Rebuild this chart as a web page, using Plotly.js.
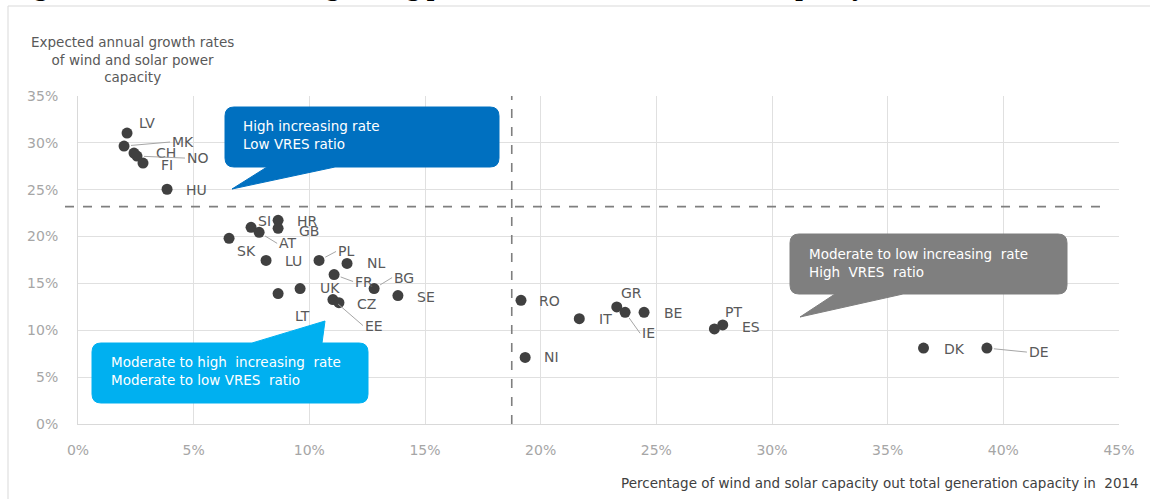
<!DOCTYPE html>
<html>
<head>
<meta charset="utf-8">
<script src="https://cdn.plot.ly/plotly-3.0.1.min.js"></script>
<style>html,body{margin:0;padding:0;background:#fff;}#chart{width:1150px;height:499px;}</style>
</head>
<body>
<div id="chart"></div>
<script>
// ---------------- DATA ----------------
const countries = ['LV','MK','CH','NO','FI','HU','SK','SI','AT','HR','GB','LU','PL','NL','FR','BG','SE','LT','UK','EE','CZ','RO','NI','IT','GR','IE','BE','PT','ES','DK','DE'];
const vresShare = [2.12,1.99,2.42,2.55,2.81,3.85,6.53,7.48,7.83,8.65,8.65,8.13,10.42,11.63,11.07,12.80,13.83,8.65,9.60,11.02,11.28,19.15,19.33,21.67,23.29,23.65,24.47,27.87,27.51,36.55,39.29];
const growthRate = [31.05,29.66,28.91,28.59,27.84,25.05,19.81,20.99,20.45,21.73,20.88,17.45,17.45,17.13,15.95,14.45,13.70,13.92,14.45,13.28,12.95,13.20,7.10,11.24,12.49,11.92,11.92,10.57,10.14,8.10,8.10];
const xTickVals = [0,5,10,15,20,25,30,35,40,45];
const yTickVals = [0,5,10,15,20,25,30,35];
const growthThreshold = 23.2;   // horizontal dashed line
const shareThreshold = 18.75;   // vertical dashed line
const titleText = 'Figure 4.4: Wind and solar growing power rates and ratio to total capacity';
const yTitleText = 'Expected annual growth rates<br>of wind and solar power<br>capacity';
const xTitleText = 'Percentage of wind and solar capacity out total generation capacity in  2014';
const calloutTexts = [
  'High increasing rate<br>Low VRES ratio',
  'Moderate to high  increasing  rate<br>Moderate to low VRES  ratio',
  'Moderate to low increasing  rate<br>High  VRES  ratio'
];

// ---------------- LAYOUT CONFIG ----------------
const W = 1150, H = 499, L = 78, R = 1119, T = 96, B = 424;
const px = v => (v - L) / (R - L);
const py = v => (B - v) / (B - T);
// label offsets in pixels: [dx to label left edge, dy to label centre, leader line]
const labelPos = {
  LV:[10,-10,false], MK:[46,-4,true], CH:[20,0,false], NO:[48,2,true], FI:[16,2,false], HU:[17,1,false],
  SK:[6,13,false], SI:[5,-6,false], AT:[18,11,true], HR:[17,1,false], GB:[19,3,false], LU:[17,1,false],
  PL:[17,-9,true], NL:[18,0,false], FR:[19,7,true], BG:[18,-11,true], SE:[17,1,false], LT:[15,22,false],
  UK:[18,-1,false], EE:[30,26,true], CZ:[16,1,false], RO:[16,1,false], NI:[17,0,false], IT:[18,0,false],
  GR:[2,-14,false], IE:[15,21,true], BE:[18,1,false], PT:[0,-13,false], ES:[26,-2,false], DK:[18,1,false], DE:[40,4,true]
};
const font = 'DejaVu Sans, Verdana, sans-serif';

function callout(box, base, tip, r, pointerSide) {
  const [x0,y0,x1,y1] = box;
  let d = `M${px(x0+r)},${py(y0)}`;
  if (pointerSide === 'top') {
    d += ` L${px(base[0])},${py(y0)} L${px(tip[0])},${py(tip[1])} L${px(base[1])},${py(y0)}`;
  }
  d += ` L${px(x1-r)},${py(y0)} Q${px(x1)},${py(y0)} ${px(x1)},${py(y0+r)}`;
  d += ` L${px(x1)},${py(y1-r)} Q${px(x1)},${py(y1)} ${px(x1-r)},${py(y1)}`;
  if (pointerSide === 'bottom') {
    d += ` L${px(base[1])},${py(y1)} L${px(tip[0])},${py(tip[1])} L${px(base[0])},${py(y1)}`;
  }
  d += ` L${px(x0+r)},${py(y1)} Q${px(x0)},${py(y1)} ${px(x0)},${py(y1-r)}`;
  d += ` L${px(x0)},${py(y0+r)} Q${px(x0)},${py(y0)} ${px(x0+r)},${py(y0)} Z`;
  return d;
}

const callouts = [
  {box:[225,107,499,167], base:[267,335], tip:[232,189], side:'bottom', color:'#0070C0', textX:241, textY:135},
  {box:[92,343,368,403], base:[252,322], tip:[325,321], side:'top', color:'#00B0F0', textX:109, textY:371},
  {box:[790,234,1067,294], base:[835,903], tip:[800,317], side:'bottom', color:'#7F7F7F', textX:807, textY:263}
];

const shapes = [
  // outer frame
  {type:'rect', xref:'paper', yref:'paper', x0:px(8), y0:py(560), x1:px(1200), y1:py(6), line:{color:'#d9d9d9', width:1}, fillcolor:'rgba(0,0,0,0)', layer:'below'},
  // threshold lines
  {type:'line', xref:'paper', yref:'y', x0:px(65), x1:px(1108), y0:growthThreshold, y1:growthThreshold, line:{color:'#7f7f7f', width:1.6, dash:'dash'}},
  {type:'line', xref:'x', yref:'y', x0:shareThreshold, x1:shareThreshold, y0:0, y1:35, line:{color:'#7f7f7f', width:1.6, dash:'dash'}}
];
callouts.forEach(c => shapes.push({type:'path', xref:'paper', yref:'paper', path:callout(c.box, c.base, c.tip, 9, c.side), fillcolor:c.color, line:{color:c.color, width:1}, layer:'above'}));

const annotations = [];
annotations.push({xref:'paper', yref:'paper', x:px(8), y:py(-14), xanchor:'left', yanchor:'middle', showarrow:false,
  text:'<b>'+titleText+'</b>', font:{family:'Liberation Serif, Times New Roman, serif', size:27, color:'#000'}});
annotations.push({xref:'paper', yref:'paper', x:px(132), y:py(59), xanchor:'center', yanchor:'middle', showarrow:false, align:'center',
  text:yTitleText, font:{family:font, size:13.5, color:'#595959'}});
annotations.push({xref:'paper', yref:'paper', x:px(1141), y:py(483), xanchor:'right', yanchor:'middle', showarrow:false,
  text:xTitleText, font:{family:font, size:13.5, color:'#404040'}});
callouts.forEach((c,i) => annotations.push({xref:'paper', yref:'paper', x:px(c.textX), y:py(c.textY), xanchor:'left', yanchor:'middle', align:'left', showarrow:false,
  text:calloutTexts[i], font:{family:font, size:13.5, color:'#ffffff'}}));

countries.forEach((c,i) => {
  const [dx,dy,leader] = labelPos[c];
  const a = {x:vresShare[i], y:growthRate[i], xref:'x', yref:'y', text:c, xanchor:'left', yanchor:'middle',
    font:{family:font, size:14, color:'#595959'}};
  if (leader) {
    Object.assign(a, {showarrow:true, ax:dx, ay:dy, arrowhead:0, arrowwidth:1, arrowcolor:'#a6a6a6', standoff:7});
  } else {
    Object.assign(a, {showarrow:false, xshift:dx, yshift:-dy});
  }
  annotations.push(a);
});

const trace = {
  type:'scatter', mode:'markers', x:vresShare, y:growthRate, text:countries,
  marker:{size:11, color:'#404040'}, hoverinfo:'text', cliponaxis:false
};

const layout = {
  width:W, height:H,
  margin:{l:L, r:W-R, t:T, b:H-B, pad:0},
  paper_bgcolor:'#ffffff', plot_bgcolor:'#ffffff',
  showlegend:false,
  font:{family:font, size:14, color:'#a6a6a6'},
  xaxis:{range:[0,45], tickvals:xTickVals, ticktext:xTickVals.map(v=>v+'%'), showgrid:true, gridcolor:'#e0e0e0', gridwidth:1,
    zeroline:false, showline:true, linecolor:'#d9d9d9', linewidth:1, ticks:'', ticklabelstandoff:13,
    tickfont:{family:font, size:14, color:'#a6a6a6'}, fixedrange:true},
  yaxis:{range:[0,35], tickvals:yTickVals, ticktext:yTickVals.map(v=>v+'%'), showgrid:true, gridcolor:'#e0e0e0', gridwidth:1,
    zeroline:false, showline:true, linecolor:'#d9d9d9', linewidth:1, ticks:'', ticklabelstandoff:16,
    tickfont:{family:font, size:14, color:'#a6a6a6'}, fixedrange:true},
  shapes:shapes,
  annotations:annotations
};

Plotly.newPlot('chart', [trace], layout, {displayModeBar:false, staticPlot:true});
</script>
</body>
</html>
